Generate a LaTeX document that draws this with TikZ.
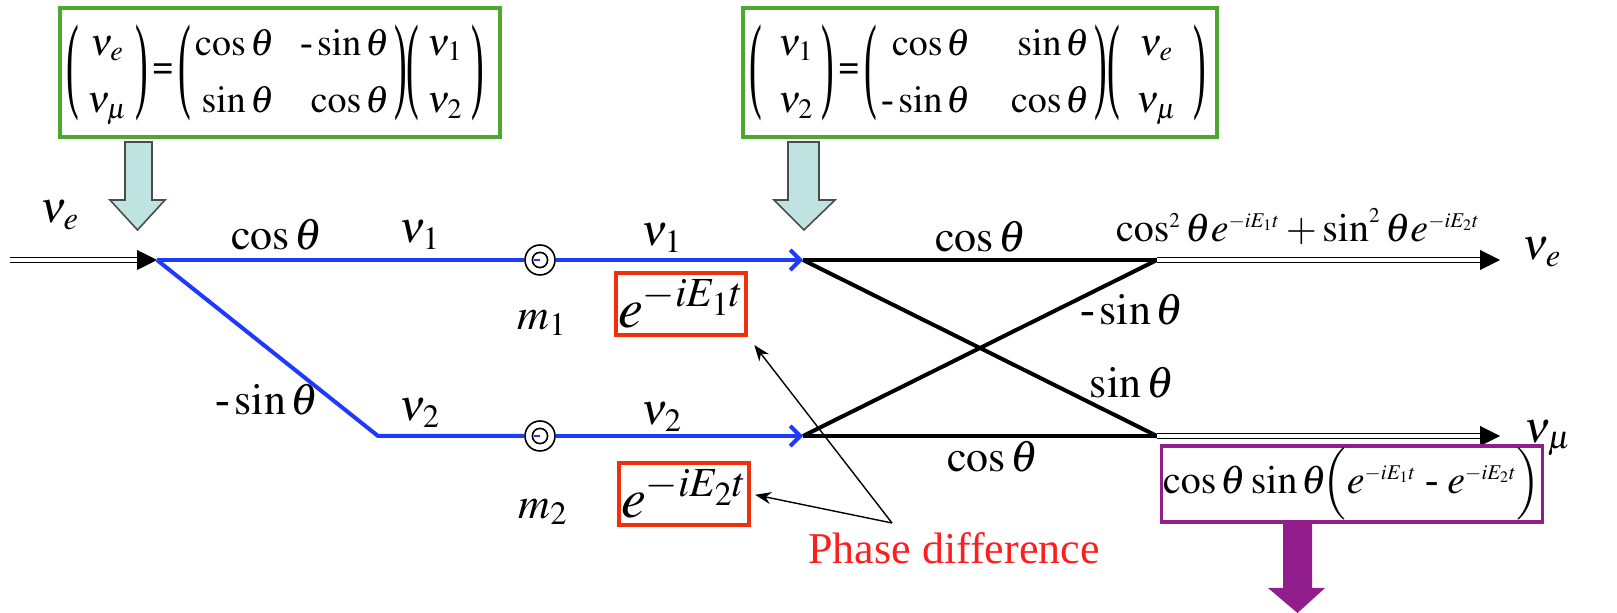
\documentclass[tikz,border=0pt]{standalone}
\usepackage{amsmath}
\usepackage{graphicx}
\usepackage{mathptmx}
\usepackage{fontspec}
\setmainfont{Liberation Serif}
\usetikzlibrary{arrows.meta, positioning, calc}
\DeclareMathSizes{20}{20}{10.5}{8}

\definecolor{nublue}{RGB}{31,58,255}
\definecolor{mixgreen}{RGB}{78,167,46}
\definecolor{phasered}{RGB}{240,48,10}
\definecolor{txtred}{RGB}{255,30,30}
\definecolor{oscpurple}{RGB}{146,30,140}
\definecolor{hintteal}{RGB}{191,227,225}

% thin tall brackets, as in the slide
\newcommand{\lpar}{\vcenter{\hbox{\scalebox{1}[2.8]{(}}}}
\newcommand{\rpar}{\vcenter{\hbox{\scalebox{1}[2.8]{)}}}}
\newcommand{\flavvec}[2]{\lpar\begin{array}{@{\;}c@{\;}}#1\\ #2\end{array}\rpar}
\newcommand{\rotmat}[5][13pt]{\lpar\begin{array}{@{\,}r@{\hspace{#1}}r@{\,}}#2 & #3\\ #4 & #5\end{array}\rpar}
\newcommand{\phs}[1]{e^{-iE_{#1}t}}

\tikzset{
  eqbox/.style={rectangle, draw=mixgreen, line width=2pt, minimum height=64.5pt,
                inner sep=2pt, font=\fontsize{19}{23}\selectfont},
  phasebox/.style={rectangle, draw=phasered, line width=2.2pt, inner sep=1pt,
                   minimum height=31pt, font=\fontsize{28}{32}\selectfont},
  probbox/.style={rectangle, draw=oscpurple, line width=1.6pt, inner sep=1pt,
                  minimum width=179.5pt, minimum height=36.5pt,
                  font=\fontsize{20}{24}\selectfont},
  lbl/.style={font=\fontsize{22}{26}\selectfont, inner sep=0pt},
  mass/.style={circle, draw=black, line width=0.8pt, fill=white, minimum size=15pt,
               inner sep=0pt,
               path picture={\draw[line width=0.8pt] (path picture bounding box.center) circle (3.8pt);
                             \draw[nublue, line width=1.2pt] ($(path picture bounding box.center)+(-3pt,0)$)
                               -- (path picture bounding box.center);}},
  dline/.style={draw=black, double=white, double distance=1.6pt, line width=0.9pt},
  dtip/.style={-{Triangle[length=10pt,width=10pt]}, draw=black, line width=0.5pt},
  nuline/.style={draw=nublue, line width=2pt},
  nuarrow/.style={nuline, -{Straight Barb[length=5pt,width=10pt,line width=2pt]}},
  mixline/.style={draw=black, line width=2pt},
  phasearrow/.style={-{Stealth[length=8pt,width=6pt]}, draw=black, line width=0.7pt},
}

\begin{document}
\begin{tikzpicture}[x=0.5pt, y=-0.5pt]
  \useasboundingbox (0,0) rectangle (1617,613);

  % mixing matrices
  \node[eqbox, minimum width=220pt] (mixL) at (280,72.5)
    {\makebox[214pt][l]{$\def\arraystretch{1.25}\flavvec{\nu_e}{\nu_\mu}
      \,\mbox{\bfseries =}\,\rotmat{\cos\theta}{\mbox{-}\sin\theta}{\sin\theta}{\cos\theta}
      \flavvec{\nu_1}{\nu_2}$}};
  \node[eqbox, minimum width=237pt] (mixR) at (980,72.5)
    {\makebox[231pt][l]{$\def\arraystretch{1.25}\flavvec{\;\nu_1}{\;\nu_2}
      \,\mbox{\bfseries =}\,\rotmat[20pt]{\;\cos\theta}{\sin\theta}{\mbox{-}\sin\theta}{\cos\theta}
      \flavvec{\;\nu_e\;}{\;\nu_\mu\;}$}};

  \draw[draw=black!70, fill=hintteal, line width=0.8pt]
    (125,142) -- (152,142) -- (152,200) -- (165,200) -- (137.5,230) -- (110,200) -- (125,200) -- cycle;
  \draw[draw=black!70, fill=hintteal, line width=0.8pt]
    (788,142) -- (819,142) -- (819,200) -- (835,200) -- (804,230) -- (774,200) -- (788,200) -- cycle;

  % junctions
  \coordinate (src) at (10,260);
  \coordinate (split) at (157,260);
  \coordinate (bend) at (378,436);
  \coordinate (in1) at (803,260);
  \coordinate (in2) at (803,436);
  \coordinate (out1) at (1157,260);
  \coordinate (out2) at (1157,436);
  \coordinate (end1) at (1500,260);
  \coordinate (end2) at (1500,436);

  \node[mass] (c1) at (540,260) {};
  \node[mass] (c2) at (540,436) {};

  \draw[dline] (src) -- ($(split)+(-8,0)$);
  \draw[dtip] ($(split)+(-2,0)$) -- (split);

  \draw[nuline] (split) -- (c1);
  \draw[nuline] (split) -- (bend) -- (c2);
  \draw[nuarrow] (c1) -- (in1);
  \draw[nuarrow] (c2) -- (in2);

  \draw[mixline] (in1) -- (out1);
  \draw[mixline] (in2) -- (out2);
  \draw[mixline] (in1) -- (out2);
  \draw[mixline] (in2) -- (out1);

  \draw[dline] (out1) -- ($(end1)+(-8,0)$);
  \draw[dtip] ($(end1)+(-2,0)$) -- (end1);
  \draw[dline] (out2) -- ($(end2)+(-8,0)$);
  \draw[dtip] ($(end2)+(-2,0)$) -- (end2);

  % labels
  \node[lbl] (nuein) at (60,215) {$\nu_e$};
  \node[lbl] (cosa) at (277,235) {$\cos\theta$};
  \node[lbl] (nu1a) at (420,235) {$\nu_1$};
  \node[lbl] (sina) at (267,400) {$\mbox{-}\sin\theta$};
  \node[lbl] (nu2a) at (420,413) {$\nu_2$};
  \node[lbl] (m1) at (542,323) {$m_1$};
  \node[lbl] (m2) at (543,512) {$m_2$};
  \node[lbl] (nu1b) at (662,238) {$\nu_1$};
  \node[lbl] (nu2b) at (662,417) {$\nu_2$};
  \node[lbl] (cosb) at (981,237) {$\cos\theta$};
  \node[lbl] (cosc) at (993,457) {$\cos\theta$};
  \node[lbl] (sinb) at (1132,310) {$\mbox{-}\sin\theta$};
  \node[lbl] (sinc) at (1132,383) {$\sin\theta$};
  \node[lbl] (nueout) at (1542,252) {$\nu_e$};
  \node[lbl] (numuout) at (1548,438) {$\nu_\mu$};
  \node[lbl, font=\fontsize{20}{24}\selectfont] (survive) at (1298,227)
    {$\cos^2\theta\phs{1}+\sin^2\theta\phs{2}$};

  % phases
  \node[phasebox, minimum width=56.5pt] (ph1) at (681,304) {$e^{-iE_1t}$};
  \node[phasebox, minimum width=59pt] (ph2) at (684,494) {$e^{-iE_2t}$};
  \node[lbl, text=txtred] (phtext) at (954,548) {Phase difference};
  \coordinate (fork) at (892,523);
  \draw[phasearrow, shorten >=5pt] (fork) -- (ph1.south east);
  \draw[phasearrow, shorten >=2pt] (fork) -- (ph2.east);

  % appearance
  \node[probbox] (appear) at (1352,484)
    {$\cos\theta\sin\theta\!\Big(\phs{1}\;\mbox{-}\;\phs{2}\Big)$};
  \fill[oscpurple]
    (1283,523) -- (1312,523) -- (1312,588) -- (1325,588) -- (1297.5,613) -- (1268,588) -- (1283,588) -- cycle;
\end{tikzpicture}
\end{document}
